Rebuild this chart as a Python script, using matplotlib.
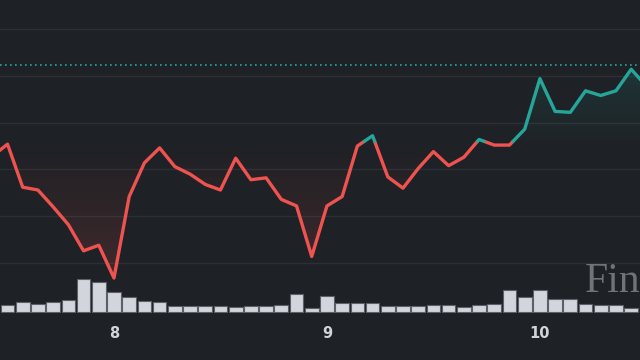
import matplotlib
matplotlib.use("Agg")
import matplotlib.pyplot as plt
import numpy as np
from matplotlib.path import Path
from matplotlib.patches import PathPatch

# price per 30-min bar, index 0 = first full bar on screen (index -1 is half off the left edge)
bar_idx = np.arange(-1, 43)
price = [25.14, 25.27, 24.81, 24.78, 24.60, 24.41, 24.13, 24.19, 23.84, 24.71,
         25.07, 25.23, 25.03, 24.95, 24.84, 24.78, 25.12, 24.89, 24.91, 24.68,
         24.61, 24.07, 24.61, 24.71, 25.25, 25.36, 24.92, 24.80, 25.01, 25.19,
         25.04, 25.13, 25.32, 25.26, 25.26, 25.43, 25.97, 25.62, 25.61, 25.84,
         25.79, 25.84, 26.07, 25.89]
vol_idx = np.arange(0, 43)
volume = [70, 95, 77, 93, 120, 323, 300, 197, 143, 107, 93, 60, 60, 60, 60, 43,
          60, 60, 70, 177, 37, 153, 90, 90, 90, 53, 53, 53, 67, 67, 50, 67, 80,
          217, 150, 217, 123, 123, 73, 67, 67, 40, 120]
baseline = 25.30
last_price = 26.12
grid_levels = [24.0, 24.5, 25.0, 25.5, 26.0, 26.5]
tick_pos = [7, 21, 35]
tick_lab = ["8", "9", "10"]

bg = "#1e2125"
red = "#ef5350"
green = "#26a69a"
ymin, ymax = 22.964, 26.81
xmin, xmax = -0.493, 41.58

fig = plt.figure(figsize=(6.4, 3.6), dpi=100, facecolor=bg)
ax = fig.add_axes([0, 0, 1, 1])
ax.set_facecolor(bg)
for s in ax.spines.values():
    s.set_visible(False)
ax.set_yticks([])
for g in grid_levels:
    ax.axhline(g, color="#2c3035", lw=1.0, zorder=0)

x = bar_idx.astype(float)
y = np.array(price)

# insert the points where the line crosses the baseline
xs, ys = [x[0]], [y[0]]
for k in range(1, len(x)):
    d0, d1 = y[k-1] - baseline, y[k] - baseline
    if d0 * d1 < 0:
        t = d0 / (d0 - d1)
        xs.append(x[k-1] + t * (x[k] - x[k-1]))
        ys.append(baseline)
    xs.append(x[k])
    ys.append(y[k])
xs = np.array(xs)
ys = np.array(ys)


def grad_fill(where, c, lo, hi, a_lo, a_hi):
    # gradient running from a_lo at y=lo to a_hi at y=hi, clipped to line/baseline area
    poly = ax.fill_between(xs, ys, baseline, where=where, facecolor="none",
                           edgecolor="none")
    paths = poly.get_paths()
    if not paths:
        return
    clip = PathPatch(Path.make_compound_path(*paths), transform=ax.transData,
                     facecolor="none", edgecolor="none")
    ax.add_patch(clip)
    n = 256
    img = np.zeros((n, 1, 4))
    img[:, 0, :3] = matplotlib.colors.to_rgb(c)
    img[:, 0, 3] = np.linspace(a_lo, a_hi, n)
    im = ax.imshow(img, extent=[xmin, xmax, lo, hi], origin="lower",
                   aspect="auto", zorder=1, interpolation="bilinear")
    im.set_clip_path(clip)


grad_fill(ys <= baseline, red, ymin, baseline, 0.26, 0.0)
grad_fill(ys >= baseline, green, baseline, ymax, 0.02, 0.28)
ax.set_xlim(xmin, xmax)
ax.set_ylim(ymin, ymax)

above = np.where(ys >= baseline, ys, np.nan)
below = np.where(ys <= baseline, ys, np.nan)
ax.plot(xs, below, color=red, lw=2.4, solid_joinstyle="round",
        solid_capstyle="round", zorder=4)
ax.plot(xs, above, color=green, lw=2.4, solid_joinstyle="round",
        solid_capstyle="round", zorder=4)
ax.axhline(last_price, color="#26a69a", lw=1.2, ls=(0, (1, 2)), zorder=3)

ax.text(0.914, 0.189, "Fin", transform=ax.transAxes, fontsize=30,
        family="Liberation Serif", color="#707378", va="baseline", zorder=1)

ax.set_xticks(tick_pos)
ax.set_xticklabels(tick_lab)
ax.tick_params(axis="x", length=0, pad=-24.5, labelsize=10.5,
               labelcolor="#d1d4dc")
for t in ax.get_xticklabels():
    t.set_fontweight("bold")

vax = ax.twinx()
vax.set_ylim(-485, 3115)
vax.set_yticks([])
for s in vax.spines.values():
    s.set_visible(False)
vax.bar(vol_idx, volume, width=0.9, color="#d3d5dc", edgecolor="#5c5f66",
        lw=0.8, zorder=2)

fig.savefig("out.png", dpi=100, facecolor=bg)
